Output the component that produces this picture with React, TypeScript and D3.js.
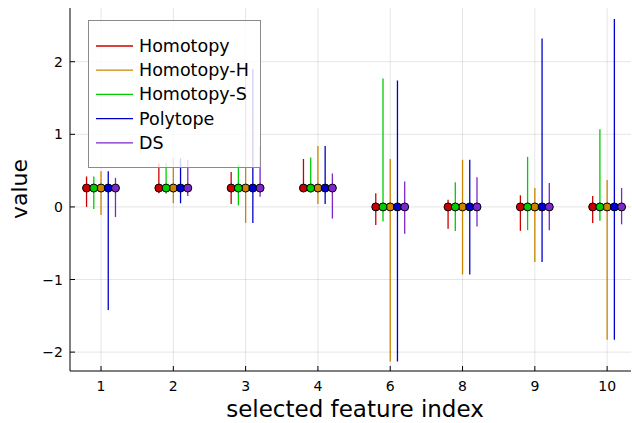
import * as d3 from 'd3';
import { useEffect, useRef } from 'react';

const W = 632;
const H = 423;
const PLOT = { left: 70, right: 631, top: 8, bottom: 371 };

const CATEGORIES = ['1', '2', '3', '4', '6', '8', '9', '10'];
const Y_TICKS = [-2, -1, 0, 1, 2];

const SERIES_NAMES = ['Homotopy', 'Homotopy-H', 'Homotopy-S', 'Polytope', 'DS'];
const SERIES_COLORS = ['#cd0000', '#cd8500', '#00cd00', '#0000cd', '#7d26cd'];
// horizontal offset of each series inside a group (in category units)
const SERIES_OFFSETS = [-0.2, 0, -0.1, 0.1, 0.2];

const homotopyMid = [0.26, 0.26, 0.26, 0.26, 0, 0, 0, 0];
const homotopyLow = [0.0, 0.19, 0.04, 0.22, -0.25, -0.3, -0.33, -0.22];
const homotopyHigh = [0.42, 0.6, 0.48, 0.66, 0.19, 0.1, 0.16, 0.15];

const homotopyHMid = [0.26, 0.26, 0.26, 0.26, 0, 0, 0, 0];
const homotopyHLow = [-0.11, 0.05, -0.22, 0.04, -2.13, -0.93, -0.76, -1.83];
const homotopyHHigh = [0.49, 0.67, 1.82, 0.84, 0.66, 0.65, 0.26, 0.37];

const homotopySMid = [0.26, 0.26, 0.26, 0.26, 0, 0, 0, 0];
const homotopySLow = [-0.03, 0.18, 0.02, 0.2, -0.2, -0.33, -0.32, -0.19];
const homotopySHigh = [0.42, 0.6, 0.59, 0.68, 1.77, 0.34, 0.69, 1.07];

const polytopeMid = [0.26, 0.26, 0.26, 0.26, 0, 0, 0, 0];
const polytopeLow = [-1.42, 0.05, -0.22, 0.04, -2.13, -0.93, -0.76, -1.83];
const polytopeHigh = [0.49, 0.67, 1.9, 0.84, 1.74, 0.65, 2.32, 2.59];

const dsMid = [0.26, 0.26, 0.26, 0.26, 0, 0, 0, 0];
const dsLow = [-0.14, 0.15, 0.14, -0.16, -0.37, -0.27, -0.32, -0.24];
const dsHigh = [0.4, 0.65, 0.83, 0.46, 0.35, 0.41, 0.33, 0.26];

const MIDS = [homotopyMid, homotopyHMid, homotopySMid, polytopeMid, dsMid];
const LOWS = [homotopyLow, homotopyHLow, homotopySLow, polytopeLow, dsLow];
const HIGHS = [homotopyHigh, homotopyHHigh, homotopySHigh, polytopeHigh, dsHigh];

const FONT = 'DejaVu Sans, sans-serif';

export default function App() {
  const svgRef = useRef<SVGSVGElement>(null);

  useEffect(() => {
    if (!svgRef.current) return;
    const svg = d3.select(svgRef.current);
    svg.selectAll('*').remove();

    const x = d3.scaleLinear().domain([0.571, 8.33]).range([PLOT.left, PLOT.right]);
    const y = d3.scaleLinear().domain([-2.26, 2.74]).range([PLOT.bottom, PLOT.top]);
    const pos = (i: number) => x(i + 1);

    svg.append('rect').attr('width', W).attr('height', H).attr('fill', '#fff');

    // grid
    const grid = svg.append('g').attr('stroke', '#000').attr('stroke-opacity', 0.1).attr('stroke-width', 1);
    CATEGORIES.forEach((_, i) => {
      grid.append('line')
        .attr('x1', pos(i)).attr('x2', pos(i))
        .attr('y1', PLOT.top).attr('y2', PLOT.bottom);
    });
    Y_TICKS.forEach(t => {
      grid.append('line')
        .attr('x1', PLOT.left).attr('x2', PLOT.right)
        .attr('y1', y(t)).attr('y2', y(t));
    });

    // axes
    const axes = svg.append('g').attr('stroke', '#000').attr('stroke-width', 1);
    axes.append('line').attr('x1', PLOT.left).attr('x2', PLOT.left).attr('y1', PLOT.top).attr('y2', PLOT.bottom);
    axes.append('line').attr('x1', PLOT.left).attr('x2', PLOT.right).attr('y1', PLOT.bottom).attr('y2', PLOT.bottom);
    CATEGORIES.forEach((_, i) => {
      axes.append('line').attr('x1', pos(i)).attr('x2', pos(i)).attr('y1', PLOT.bottom).attr('y2', PLOT.bottom - 5);
    });
    Y_TICKS.forEach(t => {
      axes.append('line').attr('x1', PLOT.left).attr('x2', PLOT.left + 5).attr('y1', y(t)).attr('y2', y(t));
    });

    // tick labels
    CATEGORIES.forEach((c, i) => {
      svg.append('text')
        .attr('x', pos(i)).attr('y', PLOT.bottom + 20)
        .attr('text-anchor', 'middle')
        .attr('font-family', FONT).attr('font-size', 14)
        .text(c);
    });
    Y_TICKS.forEach(t => {
      svg.append('text')
        .attr('x', 63).attr('y', y(t))
        .attr('text-anchor', 'end').attr('dominant-baseline', 'central')
        .attr('font-family', FONT).attr('font-size', 14)
        .text(t < 0 ? `\u2212${Math.abs(t)}` : String(t));
    });

    // axis titles
    svg.append('text')
      .attr('x', 355).attr('y', 417)
      .attr('text-anchor', 'middle')
      .attr('font-family', FONT).attr('font-size', 23)
      .text('selected feature index');
    svg.append('text')
      .attr('transform', `translate(27,189) rotate(-90)`)
      .attr('text-anchor', 'middle')
      .attr('font-family', FONT).attr('font-size', 22)
      .text('value');

    // series: error bars then markers
    SERIES_NAMES.forEach((_, s) => {
      const g = svg.append('g');
      const color = SERIES_COLORS[s];
      CATEGORIES.forEach((_, i) => {
        const cx = x(i + 1 + SERIES_OFFSETS[s]);
        g.append('line')
          .attr('x1', cx).attr('x2', cx)
          .attr('y1', y(LOWS[s][i])).attr('y2', y(HIGHS[s][i]))
          .attr('stroke', color).attr('stroke-width', 1.3);
      });
      CATEGORIES.forEach((_, i) => {
        const cx = x(i + 1 + SERIES_OFFSETS[s]);
        g.append('circle')
          .attr('cx', cx).attr('cy', y(MIDS[s][i]))
          .attr('r', 4)
          .attr('fill', color)
          .attr('stroke', '#000').attr('stroke-width', 1);
      });
    });

    // legend
    const lg = svg.append('g');
    lg.append('rect')
      .attr('x', 88.5).attr('y', 20.5).attr('width', 172).attr('height', 147)
      .attr('fill', '#fff').attr('fill-opacity', 0.82)
      .attr('stroke', '#8a8a8a').attr('stroke-width', 1);
    SERIES_NAMES.forEach((name, s) => {
      const ly = 46 + s * 24.2;
      lg.append('line')
        .attr('x1', 96).attr('x2', 133).attr('y1', ly).attr('y2', ly)
        .attr('stroke', SERIES_COLORS[s]).attr('stroke-width', 1.3);
      lg.append('text')
        .attr('x', 139).attr('y', ly)
        .attr('dominant-baseline', 'central')
        .attr('font-family', FONT).attr('font-size', 17.5)
        .text(name);
    });
  }, []);

  return (
    <svg
      ref={svgRef}
      width={W}
      height={H}
      style={{ position: 'absolute', left: 0, top: 0, display: 'block' }}
    />
  );
}
